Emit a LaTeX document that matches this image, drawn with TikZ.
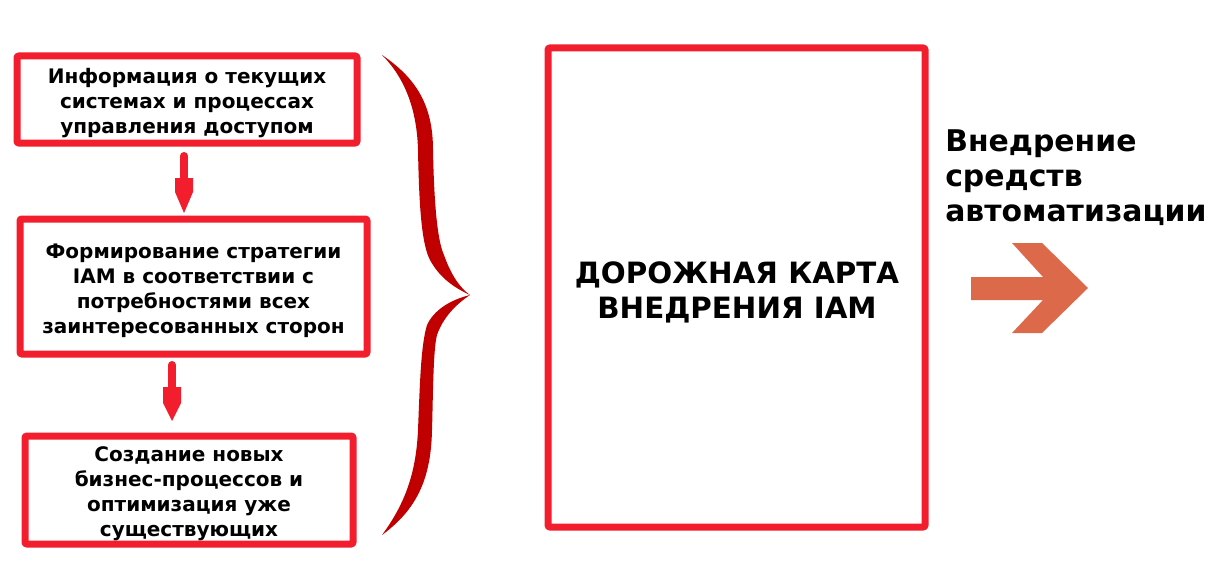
\documentclass[tikz,border=0pt]{standalone}
\usepackage{fontspec}
\setmainfont{DejaVu Sans}
\usetikzlibrary{calc}
\definecolor{boxred}{RGB}{242,30,45}
\definecolor{bracered}{RGB}{192,0,0}
\definecolor{arrorange}{RGB}{221,105,75}
\begin{document}
\begin{tikzpicture}[x=0.75pt,y=-0.75pt,
  stepbox/.style={draw=boxred, line width=5.25pt, rounded corners=1.5pt, inner sep=0pt},
  steptext/.style={align=center, inner sep=0pt, font=\bfseries\fontsize{15}{18.75}\selectfont},
  maintext/.style={align=center, inner sep=0pt, font=\bfseries\fontsize{22}{26.25}\selectfont},
  sidetext/.style={align=left, inner sep=0pt, font=\bfseries\fontsize{22.4}{26.25}\selectfont},
  shaft/.style={draw=boxred, line width=6pt, line cap=round},
  headfill/.style={fill=boxred}
]
\useasboundingbox (0,0) rectangle (1217,567);

% boxes
\node[stepbox, minimum width=255pt, minimum height=65.25pt] (b1) at (187,99.5) {};
\node[steptext] (b1t) at (187,103.5)
  {Информация о текущих\\системах и процессах\\управления доступом};
\node[stepbox, minimum width=260.25pt, minimum height=101.25pt] (b2) at (193.5,286.5) {};
\node[steptext] (b2t) at (193.5,291)
  {Формирование стратегии\\IAM в соответствии с\\потребностями всех\\заинтересованных сторон};
\node[stepbox, minimum width=246pt, minimum height=81pt] (b3) at (189,490) {};
\node[steptext] (b3t) at (189,493.5)
  {Создание новых\\бизнес-процессов и\\оптимизация уже\\существующих};
\node[stepbox, minimum width=282.75pt, minimum height=359.25pt] (road) at (736.5,287.5) {};
\node[maintext] (roadt) at (737,292)
  {ДОРОЖНАЯ КАРТА\\ВНЕДРЕНИЯ IAM};
\node[sidetext, anchor=west] (auto) at (945,178)
  {Внедрение\\средств\\автоматизации};

% arrow b1 -> b2
\coordinate (a1s) at (184,156);
\coordinate (a1t) at (184,213);
\draw[shaft] (a1s) -- ($(a1t)+(0,-30)$);
\fill[headfill] (a1t) -- ++(-9,-21) -- ++(0,-14) -- ++(18,0) -- ++(0,14) -- cycle;

% arrow b2 -> b3
\coordinate (a2s) at (172,365);
\coordinate (a2t) at (172,421);
\draw[shaft] (a2s) -- ($(a2t)+(0,-28)$);
\fill[headfill] (a2t) -- ++(-9,-18) -- ++(0,-16) -- ++(18,0) -- ++(0,16) -- cycle;

% brace
\fill[bracered] (382,55) .. controls (416,78) and (433,105) .. (433,150)
  .. controls (434,200) and (437,240) .. (444,255)
  .. controls (451,275) and (460,288) .. (470,295)
  .. controls (455,305) and (443,318) .. (437,335)
  .. controls (433,350) and (433,400) .. (432,430)
  .. controls (431,480) and (416,510) .. (382,535)
  .. controls (404,505) and (416,475) .. (418,430)
  .. controls (420,380) and (421,345) .. (427,325)
  .. controls (434,310) and (450,300) .. (470,295)
  .. controls (455,288) and (439,278) .. (429,258)
  .. controls (421,240) and (419,200) .. (418,150)
  .. controls (417,110) and (405,78) .. (382,55) -- cycle;

% orange arrow
\fill[arrorange] (971,277) -- (1043,277) -- (1012,243) -- (1042,243) -- (1088,288)
  -- (1042,333) -- (1012,333) -- (1043,300) -- (971,300) -- cycle;
\end{tikzpicture}
\end{document}
